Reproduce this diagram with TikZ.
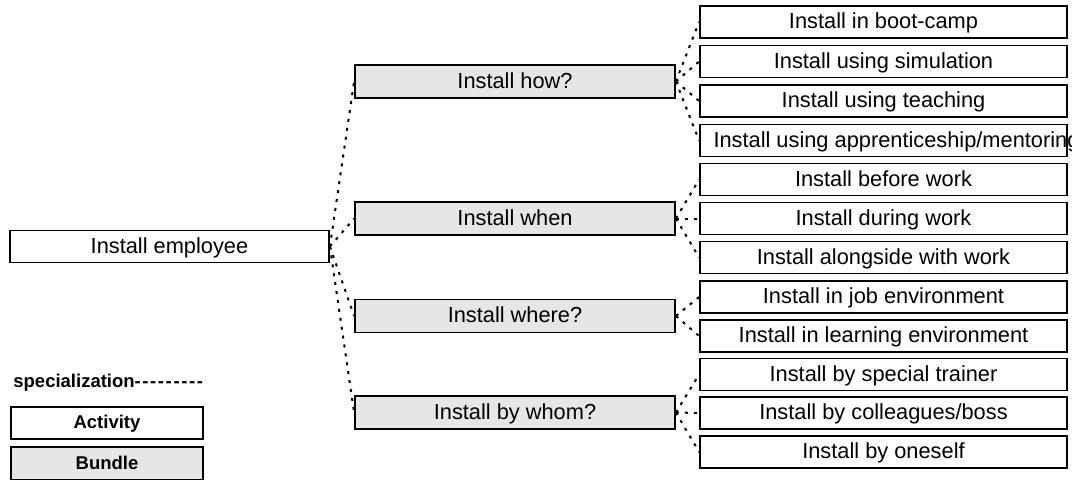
\documentclass[tikz,border=0pt]{standalone}
\usepackage{fontspec}
\setmainfont{Liberation Sans}
\usetikzlibrary{positioning}
\definecolor{bundlegray}{HTML}{E6E6E6}

\tikzset{
  activity/.style = {draw, line width=0.9pt, minimum width=183.5pt, minimum height=16pt,
                     inner sep=0pt, text height=8.5pt, text depth=1.7pt,
                     font=\fontsize{10.9}{12}\selectfont},
  bundle/.style = {activity, fill=bundlegray, minimum width=160pt, minimum height=16.5pt},
  legendbox/.style = {activity, minimum width=96pt, text height=7.4pt, text depth=1.5pt,
                      font=\fontsize{9.25}{11}\selectfont\bfseries},
  spec/.style = {line width=1pt, dash pattern=on 1.5pt off 3pt},
}
\newcommand{\hy}{\mbox{-}\kern0.8pt}

\begin{document}
\begin{tikzpicture}[x=0.5pt, y=-0.5pt]

    \useasboundingbox (0,0) rectangle (1072,479);

    % root and bundles
    \node[activity, minimum width=159.5pt] (employee) at (169.5,246.5) {Install employee};
    \node[bundle] (how) at (515,81.5) {Install how?};
    \node[bundle] (when) at (515,218.5) {Install when};
    \node[bundle] (where) at (515,316) {Install where?};
    \node[bundle] (whom) at (515,412.5) {Install by whom?};

    % activities on the right
    \foreach \y/\name/\txt in {22/camp/{Install in boot-camp},
                               61.5/simul/{Install using simulation},
                               101/teach/{Install using teaching},
                               140.5/mentor/{\makebox[170pt][l]{Install using apprenticeship/mentoring}},
                               179.5/before/{Install before work},
                               218.5/during/{Install during work},
                               257.5/along/{Install alongside with work},
                               297/job/{Install in job environment},
                               336/learn/{Install in learning environment},
                               374.5/trainer/{Install by special trainer},
                               413/boss/{Install by colleagues/boss},
                               452/oneself/{Install by oneself}}
        \node[activity] (\name) at (883.5,\y) {\txt};

    % specialization links
    \foreach \b in {how,when,where,whom}
        \draw[spec] (employee.east) -- (\b.west);
    \foreach \a in {camp,simul,teach,mentor}
        \draw[spec] (how.east) -- (\a.west);
    \foreach \a in {before,during,along}
        \draw[spec] (when.east) -- (\a.west);
    \foreach \a in {job,learn}
        \draw[spec] (where.east) -- (\a.west);
    \foreach \a in {trainer,boss,oneself}
        \draw[spec] (whom.east) -- (\a.west);

    % legend
    \node[anchor=west, inner sep=0pt, font=\fontsize{9.25}{11}\selectfont\bfseries] (speclabel) at (13,383)
        {specialization\hy\hy\hy\hy\hy\hy\hy\hy\hy};
    \node[legendbox] (actlegend) at (107,423) {Activity};
    \node[legendbox, fill=bundlegray, minimum height=16.5pt] (bundlelegend) at (107,463.5) {Bundle};

\end{tikzpicture}
\end{document}
